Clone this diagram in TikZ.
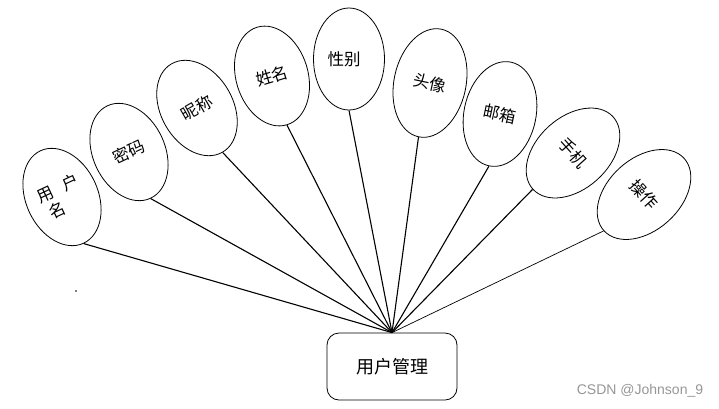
\documentclass[tikz,border=0pt]{standalone}
\usepackage{fontspec}
\setmainfont{Liberation Sans}
\newfontfamily\cjk{Noto Sans CJK SC}
\usetikzlibrary{shapes.geometric}
\definecolor{wmgray}{RGB}{150,150,150}
\tikzset{
  attr/.style={ellipse, draw, line width=0.8pt, inner sep=0pt,
    minimum width=72pt, minimum height=102pt, font=\cjk\fontsize{16.5}{22}\selectfont, align=left},
  link/.style={line width=1.1pt},
  thinlink/.style={line width=0.7pt},
  mainbox/.style={draw, line width=0.8pt, rounded corners=12pt, minimum width=130pt,
    minimum height=67pt, font=\cjk\fontsize{18}{22}\selectfont}
}
\begin{document}
\begin{tikzpicture}[x=1pt,y=-1pt]
\useasboundingbox (0,0) rectangle (719,408);
\node[mainbox] (box) at (392,366.5) {用户管理};
\node[attr, rotate=25] (e1) at (62,197) {用\hspace{0.7em}户\\[-3pt]\hspace{0.25em}名};
\node[attr, rotate=25] (e2) at (129,152) {密码};
\node[attr, rotate=30] (e3) at (197,108) {昵称};
\node[attr, rotate=17] (e4) at (272,76) {姓名};
\node[attr, rotate=0, minimum width=71pt] (e5) at (349,59) {性别\hspace{10pt}};
\node[attr, rotate=-12, minimum height=110pt] (e6) at (430,83) {头像};
\node[attr, rotate=-12, minimum height=106pt] (e7) at (500,114) {邮箱};
\node[attr, rotate=-48, minimum height=108pt] (e8) at (573,153) {手机};
\node[attr, rotate=-48, minimum height=108pt] (e9) at (644,194.5) {操作};
\foreach \e in {e1,e2,e3,e4,e5,e6,e7,e8}{\draw[link] (\e.south) -- (box.north);}
\draw[thinlink] (e9.south) -- (box.north);
\fill (76,291) circle (0.8pt);
\node[text=wmgray, font=\fontsize{14}{16}\selectfont, anchor=center] (wm) at (640,391) {CSDN @Johnson\_9};
\end{tikzpicture}
\end{document}
